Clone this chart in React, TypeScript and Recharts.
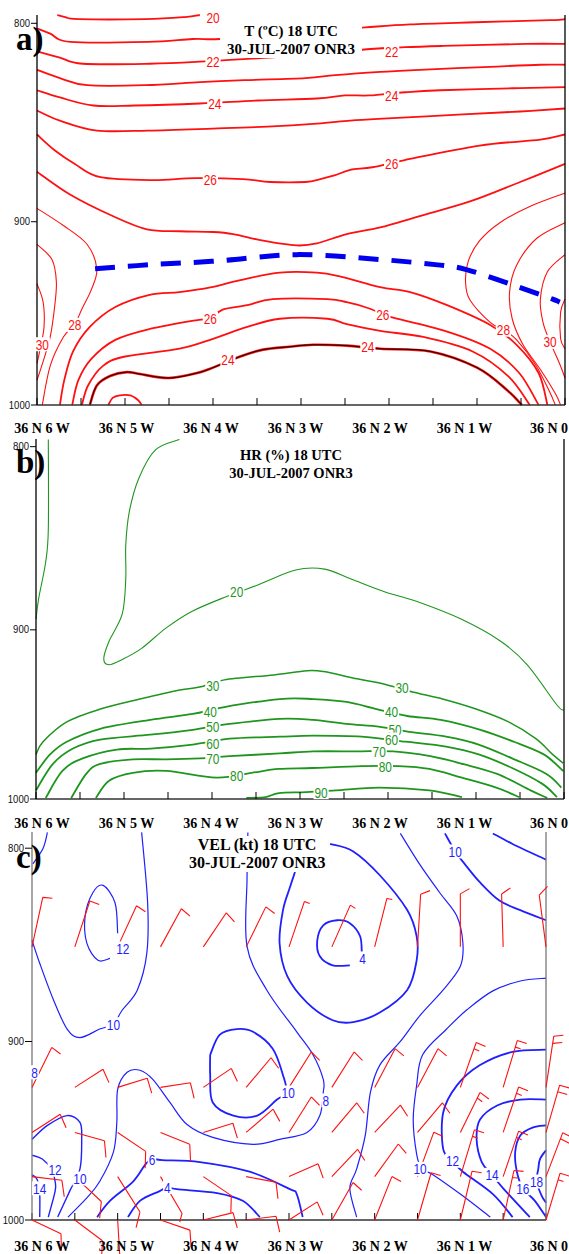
import React from 'react';
import { ComposedChart, Line, Scatter, XAxis, YAxis } from 'recharts';

// [longitude (deg, W negative), pressure (hPa)]
type P = [number, number];
type Lab = [number, number, string];

const LON_TICKS = [-6, -5.5, -5, -4.5, -4, -3.5, -3, -2.5, -2, -1.5, -1, -0.5, 0];
const LON_LABELS = ['36 N 6 W', '36 N 5 W', '36 N 4 W', '36 N 3 W', '36 N 2 W', '36 N 1 W', '36 N 0'];
const P_TICKS = [800, 900, 1000];

// ---- a) temperature (ºC) ----
const T20: P[] = [[-5.77, 796], [-5.68, 797], [-5.53, 798], [-4.77, 798], [-4.32, 797], [-4.15, 796]];
const T21: P[] = [[-6, 802.5], [-5.85, 805], [-5.62, 809], [-4.74, 809], [-4.23, 807.6], [-3.92, 807.6], [-3.13, 805], [-2.27, 802], [-1.76, 800.5], [-1.02, 799.5], [-0.17, 798.5], [0, 798]];
const T22: P[] = [[-6, 813.6], [-5.74, 816.7], [-5.48, 819.7], [-4.72, 819.7], [-4.15, 818.7], [-3.13, 816], [-2.25, 812.6], [-1.82, 811.6], [-1.39, 811], [-0.45, 810], [0, 810]];
const T23: P[] = [[-6, 822.7], [-5.74, 826.8], [-5.43, 830.3], [-4.77, 830.3], [-4.15, 828.8], [-3.64, 827.8], [-2.95, 826.8], [-2.61, 825.3], [-2.1, 823.7], [-1.65, 822.7], [-0.85, 821.2], [-0.28, 820.2], [0, 820.2]];
const T24: P[] = [[-6, 832.8], [-5.74, 836.4], [-5.36, 840.4], [-4.89, 840.4], [-4.15, 839.4], [-3.49, 837.9], [-2.82, 836.9], [-2.5, 835.4], [-2.22, 835.4], [-1.82, 833.8], [-1.42, 832.8], [-0.59, 831.8], [0, 831.3]];
const T25: P[] = [[-6, 842.9], [-5.74, 848], [-5.32, 853], [-4.74, 853], [-4, 852], [-3.38, 851], [-2.82, 849.5], [-2.44, 848], [-2.07, 847], [-1.16, 844.9], [-0.51, 843.4], [0, 841.9]];
const T26: P[] = [[-6, 855], [-5.8, 863], [-5.57, 870], [-5.28, 876.8], [-4.69, 878.3], [-4.2, 877.3], [-3.66, 877.8], [-3.35, 879.3], [-2.95, 879.3], [-2.78, 877.8], [-2.61, 875.8], [-2.44, 873], [-2.19, 871.7], [-1.82, 868], [-0.97, 860.6], [-0.28, 857.6], [0, 855]];
const T27: P[] = [[-6, 874], [-5.62, 885.9], [-5.14, 897], [-4.75, 904], [-4.38, 905], [-4, 905.4], [-3.77, 906.5], [-3.43, 910], [-3.05, 912.5], [-2.82, 911.4], [-2.48, 906.5], [-2.1, 903], [-1.65, 897], [-1.08, 889.4], [-0.51, 879.3], [0, 870]];
const T28W: P[] = [[-6, 893], [-5.7, 902], [-5.43, 912], [-5.32, 925], [-5.38, 935.9], [-5.49, 946.7], [-5.57, 955], [-5.7, 962], [-5.85, 978], [-5.94, 1000]];
const T29W: P[] = [[-6, 912], [-5.83, 920], [-5.78, 932], [-5.8, 945.6], [-5.85, 962], [-5.93, 975.5], [-6, 986]];
const T30W: P[] = [[-6, 933], [-5.93, 943], [-5.92, 956.5], [-5.97, 970], [-6, 976.6]];
const T28E: P[] = [[0, 885], [-0.4, 892], [-0.74, 900.5], [-0.97, 910], [-1.1, 921], [-1.13, 932], [-1.08, 941.8], [-0.85, 954], [-0.7, 958], [-0.55, 963.6], [-0.34, 977], [-0.18, 992], [-0.11, 1000]];
const T29E: P[] = [[0, 900.5], [-0.32, 908.7], [-0.55, 923], [-0.63, 937.5], [-0.6, 952], [-0.48, 966], [-0.28, 980], [-0.11, 993.5], [-0.05, 1000]];
const T30E: P[] = [[0, 917.4], [-0.2, 926.6], [-0.28, 941.3], [-0.25, 954], [-0.17, 964.7], [-0.06, 977], [0, 984.8]];
const T31E: P[] = [[0, 941.3], [-0.05, 948.4], [-0.05, 963], [0, 968.5]];
const T27L: P[] = [[-5.74, 1000], [-5.69, 986], [-5.59, 970], [-5.4, 956.5], [-5.11, 945.6], [-4.72, 939], [-4.38, 937.5], [-4.03, 935], [-3.69, 931], [-3.24, 927], [-2.82, 927], [-2.56, 929], [-2.1, 934.8], [-1.76, 937.5], [-1.34, 944.6], [-0.85, 955.4], [-0.55, 966.3], [-0.3, 982], [-0.2, 1000]];
const T26L: P[] = [[-5.6, 1000], [-5.53, 986], [-5.38, 974], [-5.11, 963.6], [-4.72, 957.6], [-4.18, 952.7], [-4.03, 952], [-3.89, 947], [-3.61, 944.6], [-3.32, 941.3], [-2.7, 941.3], [-2.48, 943], [-2.25, 946], [-2.07, 949.5], [-1.99, 951], [-1.34, 959], [-0.85, 968.5], [-0.52, 982], [-0.3, 1000]];
const T25L: P[] = [[-5.49, 1000], [-5.42, 989], [-5.25, 978], [-5, 972.8], [-4.38, 968.5], [-4, 963], [-3.61, 956.5], [-3.24, 952], [-2.7, 952], [-2.48, 955], [-2.1, 958.7], [-1.61, 962], [-1.05, 970], [-0.64, 984], [-0.4, 1000]];
const T24L: P[] = [[-5.4, 1000], [-5.32, 989], [-5.17, 983.7], [-4.98, 981.5], [-4.83, 982.6], [-4.5, 984.8], [-4.18, 982], [-4, 979], [-3.69, 972.8], [-3.43, 969], [-3.13, 967.4], [-2.86, 966.3], [-2.48, 966.8], [-2.1, 968.5], [-1.53, 970], [-1, 979], [-0.66, 991.5], [-0.49, 1000]];
const T23L: P[] = [[-5.19, 1000], [-5.14, 996], [-5.06, 994.6], [-4.94, 994.6], [-4.85, 997.3], [-4.81, 1000]];
const INVERSION: P[] = [[-5.34, 925], [-4.72, 922.8], [-3.92, 920.7], [-3.05, 917.4], [-2.1, 920], [-1.42, 923], [-1.11, 925.5], [-0.59, 933.7], [-0.14, 941.3], [-0.06, 943]];
const T_LABELS: Lab[] = [
  [-4, 797, '20'], [-4, 818.7, '22'], [-1.97, 813.6, '22'], [-3.98, 839.4, '24'], [-1.97, 835.4, '24'],
  [-4.03, 877.8, '26'], [-1.97, 870, '26'], [-5.57, 955.4, '28'], [-5.94, 966, '30'], [-0.7, 958, '28'],
  [-0.17, 964.7, '30'], [-4.03, 952, '26'], [-2.07, 949.5, '26'], [-3.83, 974.5, '24'], [-2.24, 967.4, '24'],
];

// ---- b) relative humidity (%) ----
const H20W: P[] = [[-5.86, 796.2], [-5.86, 843.9], [-5.89, 862], [-5.97, 882.4], [-6, 894]];
const H20: P[] = [[-4.37, 796.2], [-4.64, 801.6], [-4.83, 816.5], [-4.94, 834.6], [-4.98, 852.7], [-4.98, 871.4], [-5.02, 891], [-5.17, 906.5], [-5.23, 916.5], [-5.17, 920], [-5.02, 917], [-4.8, 910.6], [-4.52, 898.9], [-4.23, 889.6], [-3.84, 881.3], [-3.48, 874.7], [-3.05, 866.4], [-2.72, 865.9], [-2.42, 871.4], [-2.04, 878.5], [-1.67, 884], [-1.17, 893.9], [-0.72, 906.5], [-0.42, 920], [-0.08, 943.5], [0, 946.5]];
const H30: P[] = [[-6, 972.9], [-5.92, 965.3], [-5.65, 953.5], [-5.27, 945.9], [-4.82, 940], [-4.37, 934.7], [-4.14, 933], [-3.86, 928.8], [-3.3, 925.9], [-2.92, 923.5], [-2.73, 924], [-2.35, 928.2], [-2.05, 931.2], [-1.72, 935.9], [-1.38, 940], [-1, 945.9], [-0.63, 953.5], [-0.32, 963.5], [-0.13, 972.9], [-0.01, 978.2]];
const H40: P[] = [[-6, 984], [-5.84, 972.9], [-5.65, 965.3], [-5.27, 957.6], [-4.7, 952.3], [-4.22, 948.8], [-3.86, 944.7], [-3.23, 940], [-2.85, 940], [-2.47, 941.7], [-2.13, 945.9], [-1.78, 950], [-1.4, 952.3], [-0.95, 958.2], [-0.57, 965.3], [-0.23, 972.9], [-0.01, 982.9]];
const H50: P[] = [[-6, 994.7], [-5.81, 978.8], [-5.58, 969.4], [-5.27, 964], [-4.7, 961.1], [-4.22, 958.2], [-3.8, 954.7], [-3.23, 951.7], [-2.85, 952.3], [-2.47, 954.7], [-2.09, 956.4], [-1.76, 959.4], [-1.34, 962.3], [-0.97, 967], [-0.59, 975.3], [-0.2, 984.7], [-0.03, 993]];
const H60: P[] = [[-5.89, 999.4], [-5.7, 982.9], [-5.47, 975.3], [-5.08, 970], [-4.7, 969.4], [-4.22, 967], [-3.8, 963.5], [-3.23, 962.3], [-2.85, 961.7], [-2.3, 962.3], [-1.8, 965.3], [-1.34, 968.2], [-0.97, 972.9], [-0.59, 981.1], [-0.25, 990.6], [-0.08, 998.8]];
const H70: P[] = [[-5.6, 999.4], [-5.43, 984.7], [-5.28, 978.8], [-4.9, 975.9], [-4.52, 975.9], [-4.14, 975.3], [-3.8, 974], [-3.23, 972.3], [-2.85, 971.1], [-2.36, 971.1], [-1.94, 971.1], [-1.52, 974], [-1.14, 978.8], [-0.76, 984.7], [-0.38, 994.7], [-0.19, 999.4]];
const H80: P[] = [[-5.32, 999.4], [-5.17, 988.8], [-4.9, 984], [-4.52, 982.9], [-3.95, 987], [-3.55, 984], [-3.24, 981.7], [-2.86, 981.1], [-2.3, 980], [-1.88, 980], [-1.53, 981.7], [-1.16, 987], [-0.77, 993], [-0.51, 998.8]];
const H90: P[] = [[-3.61, 999.4], [-3.39, 998.8], [-3.24, 996.4], [-2.93, 995.8], [-2.59, 994.7], [-2.1, 993], [-1.53, 994.7], [-1.16, 998.8]];
const H_LABELS: Lab[] = [
  [-3.72, 878.5, '20'], [-3.99, 931.8, '30'], [-1.84, 933, '30'], [-4.02, 947.6, '40'], [-1.96, 947.6, '40'],
  [-3.99, 956.4, '50'], [-1.92, 958.2, '50'], [-3.99, 966.4, '60'], [-1.96, 964, '60'], [-3.99, 975.3, '70'],
  [-2.1, 971.1, '70'], [-3.72, 985.8, '80'], [-2.03, 980, '80'], [-2.76, 995.8, '90'],
];

// ---- c) wind speed (kt) ----
const V8NW: P[] = [[-5.82, 792.2], [-5.87, 800], [-5.99, 807.8]];
const V10W: P[] = [[-6, 846.6], [-5.91, 858.5], [-5.75, 877.7], [-5.59, 893.3], [-5.44, 897.9], [-5.21, 893.3], [-5.05, 890.7], [-4.95, 883.4], [-4.77, 872.5], [-4.66, 853.4], [-4.65, 827.5], [-4.72, 792.2]];
const V12W: P[] = [[-5.09, 856], [-5.23, 857], [-5.36, 848.1], [-5.38, 834.2], [-5.29, 822.3], [-5.17, 818.6], [-5.03, 827.5], [-5, 843]];
const V8C: P[] = [[-5.58, 998.3], [-5.36, 987.2], [-5.21, 977.8], [-5.05, 961.1], [-5.01, 944.4], [-5, 926.1], [-4.89, 916.7], [-4.74, 915.6], [-4.59, 920.6], [-4.39, 933.3], [-4.19, 945.6], [-3.89, 952.8], [-3.42, 956.7], [-3.11, 953.9], [-2.79, 950], [-2.64, 940.6], [-2.6, 927.8], [-2.6, 920.6], [-2.72, 907.2], [-2.91, 894.8], [-3.26, 872.5], [-3.49, 849.7], [-3.49, 815.5], [-3.48, 792.2]];
const V10C: P[] = [[-3.92, 907.2], [-3.81, 896.4], [-3.61, 893.3], [-3.42, 894.8], [-3.19, 903.9], [-3.07, 918.3], [-3.03, 927.8], [-3.14, 931.7], [-3.37, 940.6], [-3.65, 940.6], [-3.89, 933.3], [-3.92, 918.3], [-3.92, 907.2]];
const V4: P[] = [[-2.15, 853.4], [-2.17, 844.5], [-2.29, 837.8], [-2.44, 836.3], [-2.6, 838.9], [-2.67, 846.6], [-2.64, 854.9], [-2.49, 859.6], [-2.29, 859.6]];
const V6N: P[] = [[-2.93, 811.9], [-2.99, 819.7], [-3.07, 831.1], [-3.11, 848.1], [-3.02, 865.3], [-2.79, 879.2], [-2.49, 888.6], [-2.25, 889.6], [-1.94, 884.5], [-1.62, 872.5], [-1.51, 857], [-1.51, 844.5], [-1.62, 831.1], [-1.94, 813.5], [-2.25, 801.6], [-2.52, 797.9]];
const V10N: P[] = [[-1.7, 792.7], [-1.47, 808.3], [-1.24, 822.3], [-1.04, 834.2], [-0.97, 848.1], [-1, 860.1], [-1.2, 872.5], [-1.47, 886], [-1.7, 900], [-1.94, 912.8], [-2.05, 927.8], [-2.11, 951.7], [-2.21, 970.6], [-2.29, 981.7], [-2.21, 998.3]];
const V10E: P[] = [[0, 866.3], [-0.3, 867.8], [-0.62, 873], [-0.92, 882.9], [-1.16, 893.3], [-1.44, 907.2], [-1.51, 923.9], [-1.55, 942.8], [-1.51, 962.2], [-1.45, 970.6], [-1.32, 973.9], [-1, 985], [-0.65, 998.3]];
const V10NE: P[] = [[-1.18, 792.7], [-1.06, 801.6], [-0.95, 807.8], [-0.77, 817.1], [-0.54, 826.4], [-0.3, 831.1], [0, 836.3]];
const V12NE: P[] = [[-0.62, 792.7], [-0.39, 797.9], [0, 805.7]];
const V12E: P[] = [[0, 904.4], [-0.39, 905.6], [-0.77, 912.8], [-1.04, 923.9], [-1.2, 938.9], [-1.2, 959.4], [-1.09, 966], [-0.97, 972.2], [-0.62, 985], [-0.39, 998.3]];
const V14E: P[] = [[0, 931.7], [-0.3, 931.7], [-0.57, 935], [-0.77, 942.8], [-0.81, 953.9], [-0.75, 966.7], [-0.63, 974], [-0.5, 981.7], [-0.19, 998.3]];
const V16E: P[] = [[0, 946.1], [-0.15, 947.2], [-0.3, 951.7], [-0.36, 961.1], [-0.34, 972.2], [-0.27, 981.7], [-0.13, 988.9], [0, 998.3]];
const V18E: P[] = [[0, 960], [-0.07, 965], [-0.09, 970.6], [-0.11, 977.8], [-0.05, 986], [0, 990]];
const V10SW: P[] = [[-6, 953.9], [-5.82, 946.1], [-5.59, 940.6], [-5.44, 944.4], [-5.42, 953.9], [-5.44, 970.6], [-5.56, 983.3], [-5.7, 998.3]];
const V12SW: P[] = [[-6, 962.8], [-5.88, 965], [-5.77, 971], [-5.73, 977.8], [-5.73, 983.3], [-5.81, 998.3]];
const V14SW: P[] = [[-6, 973.9], [-5.94, 976.7], [-5.91, 985], [-5.91, 998.3]];
const V6S: P[] = [[-5.24, 998.3], [-5.09, 988.9], [-4.82, 977.8], [-4.68, 968.3], [-4.6, 965], [-4.48, 965.6], [-4.04, 966.7], [-3.46, 972.2], [-2.99, 982.2], [-2.91, 985], [-2.84, 998.3]];
const V4S: P[] = [[-4.88, 998.3], [-4.74, 988.9], [-4.51, 983.3], [-4.42, 981], [-4.31, 982.2], [-3.84, 984.4], [-3.54, 988.9], [-3.34, 998.3]];
const V_LABELS: Lab[] = [
  [-5.05, 890.7, '10'], [-4.94, 850.8, '12'], [-2.57, 932.2, '8'], [-3.01, 927.8, '10'], [-2.14, 856, '4'],
  [-1.47, 970.6, '10'], [-1.06, 801.6, '10'], [-1.09, 966, '12'], [-0.63, 974, '14'], [-0.27, 981.7, '16'],
  [-0.11, 977.8, '18'], [-5.44, 976.1, '10'], [-5.73, 971.1, '12'], [-5.91, 981.7, '14'], [-4.6, 965, '6'],
  [-4.42, 981, '4'], [-5.97, 916.7, '8'],
];

// wind barbs: direction (deg, where the staff points) and speed (kt)
const BARB_LONS = [-6, -5.5, -5, -4.5, -4, -3.5, -3, -2.5, -2, -1.5, -1, -0.5, 0];
const BARB_LEVELS = [850, 925, 950, 975, 1000];
const DIR_850 = [21, 30, 39, 44, 50, 41, 31, 38, 24, 6, 0, 357, 347];
const DIR_925 = [41, 70, 80, 85, 69, 56, 48, 48, 43, 43, 32, 28, 15];
const DIR_950 = [70, 99, 111, 103, 80, 64, 48, 56, 59, 56, 41, 31, 27];
const DIR_975 = [94, 118, 132, 134, 111, 96, 76, 59, 52, 33, 28, 31, 34];
const DIR_1000 = [105, 113, 174, 101, 82, 86, 70, 45, 35, 27, 23, 21, 28];
const SPD_850 = [10, 10, 10, 10, 10, 10, 5, 5, 5, 10, 10, 10, 10];
const SPD_925 = [10, 10, 10, 10, 10, 10, 10, 10, 10, 10, 15, 15, 20];
const SPD_950 = [10, 10, 10, 10, 10, 10, 10, 10, 10, 10, 15, 15, 20];
const SPD_975 = [10, 10, 10, 5, 10, 10, 10, 10, 10, 10, 15, 15, 20];
const SPD_1000 = [10, 10, 10, 10, 10, 10, 10, 10, 10, 10, 10, 15, 15];

const RED = '#ff1010';
const GREEN = '#1e961e';
const BLUE = '#1f1fff';
const SERIF = "'Liberation Serif', 'Times New Roman', serif";
const SANS = "'Liberation Sans', Arial, sans-serif";

const kap = (p: number) => Math.pow(p, 0.286);
const toPts = (pts: P[]) => pts.map(([lon, p]) => ({ lon, k: kap(p) }));
const toLabs = (labs: Lab[]) => labs.map(([lon, p, t]) => ({ lon, k: kap(p), t }));

// Catmull-Rom curve through the points, works for contours that fold back
function catmull(context: any) {
  let pts: number[][] = [];
  return {
    areaStart() {},
    areaEnd() {},
    lineStart() { pts = []; },
    point(x: number, y: number) { pts.push([x, y]); },
    lineEnd() {
      if (!pts.length) return;
      context.moveTo(pts[0][0], pts[0][1]);
      for (let i = 0; i < pts.length - 1; i++) {
        const p0 = pts[i - 1] || pts[i];
        const p1 = pts[i];
        const p2 = pts[i + 1];
        const p3 = pts[i + 2] || p2;
        context.bezierCurveTo(
          p1[0] + (p2[0] - p0[0]) / 6, p1[1] + (p2[1] - p0[1]) / 6,
          p2[0] - (p3[0] - p1[0]) / 6, p2[1] - (p3[1] - p1[1]) / 6,
          p2[0], p2[1]);
      }
    },
  };
}

const XTick = (props: any) => {
  const v = props.payload?.value;
  if (!Number.isInteger(v)) return null;
  return (
    <text x={42 + (v + 6) * 84.5} y={props.y} textAnchor="middle" fontFamily={SERIF} fontWeight="bold" fontSize={14} fill="#000">
      {LON_LABELS[v + 6]}
    </text>
  );
};

const YTick = (props: any) => {
  const s = String(Math.round(Math.pow(props.payload.value, 1 / 0.286)));
  return (
    <text x={props.x} y={props.y + 3.5} textAnchor="end" fontSize={10} fontFamily={SANS} fill="#111"
      textLength={s.length * 5.3} lengthAdjust="spacingAndGlyphs">{s}</text>
  );
};

const labelShape = (color: string) => (props: any) => {
  const { cx, cy, payload } = props;
  const w = payload.t.length * 6.6;
  return (
    <g>
      <rect x={cx - w / 2 - 1} y={cy - 7} width={w + 2} height={14} fill="#fff" />
      <text x={cx} y={cy + 5.5} textAnchor="middle" fontSize={15} fontFamily={SANS} fill={color}
        textLength={w} lengthAdjust="spacingAndGlyphs">{payload.t}</text>
    </g>
  );
};

const BarbShape = (props: any) => {
  const { cx, cy, payload } = props;
  const d = (payload.dir * Math.PI) / 180;
  const f = d + (72 * Math.PI) / 180;
  const sx = (u: number) => cx + u * 30;
  const sy = (v: number) => cy - v * 53;
  const ux = Math.sin(d);
  const uy = Math.cos(d);
  let path = `M${cx},${cy}L${sx(ux)},${sy(uy)}`;
  let kt = payload.kt;
  let i = 0;
  while (kt >= 10) {
    const bx = ux * (1 - i * 0.14);
    const by = uy * (1 - i * 0.14);
    path += `M${sx(bx)},${sy(by)}L${sx(bx + 0.32 * Math.sin(f))},${sy(by + 0.32 * Math.cos(f))}`;
    kt -= 10;
    i++;
  }
  if (kt >= 5) {
    const bx = ux * (1 - i * 0.14);
    const by = uy * (1 - i * 0.14);
    path += `M${sx(bx)},${sy(by)}L${sx(bx + 0.18 * Math.sin(f))},${sy(by + 0.18 * Math.cos(f))}`;
  }
  return <path d={path} stroke={RED} strokeWidth={1.1} fill="none" />;
};

type LineSpec = { pts: P[]; color: string; width: number; dash?: string };

function Panel(props: {
  top: number; height: number; mt: number; mb: number; leftW: number; rightW: number; pTop: number;
  lines: LineSpec[]; labels: Lab[]; labelColor: string; barbs?: any[]; tickMargin: number;
  axisColor: string; yTick: number;
}) {
  const yDomain = [kap(props.pTop), kap(1000)];
  const kTicks = P_TICKS.map(kap);
  return (
    <div style={{ position: 'absolute', left: 0, top: props.top }}>
      <ComposedChart width={569} height={props.height} margin={{ top: props.mt, right: 0, bottom: props.mb, left: 0 }}>
        <XAxis type="number" dataKey="lon" domain={[-6, 0]} ticks={LON_TICKS} interval={0} height={30}
          tickSize={-7} tickMargin={props.tickMargin} tick={<XTick />}
          tickLine={{ stroke: '#000' }} axisLine={{ stroke: '#333', strokeWidth: 1.5 }} />
        <YAxis yAxisId="l" type="number" dataKey="k" domain={yDomain} reversed ticks={kTicks} interval={0}
          width={props.leftW} tickSize={props.yTick} tickMargin={1} tick={<YTick />}
          axisLine={{ stroke: props.axisColor, strokeWidth: 1.3 }} tickLine={{ stroke: '#000' }} />
        <YAxis yAxisId="r" orientation="right" type="number" dataKey="k" domain={yDomain} reversed ticks={kTicks}
          interval={0} width={props.rightW} tickSize={4} tick={false}
          axisLine={{ stroke: props.axisColor, strokeWidth: 1.3 }} tickLine={{ stroke: '#000' }} />
        {props.lines.map((l, i) => (
          <Line key={i} yAxisId="l" data={toPts(l.pts)} dataKey="k" type={catmull as any} stroke={l.color}
            strokeWidth={l.width} strokeDasharray={l.dash} dot={false} activeDot={false} isAnimationActive={false} />
        ))}
        {props.barbs && (
          <Scatter yAxisId="l" data={props.barbs} shape={(p: any) => <BarbShape {...p} />} isAnimationActive={false} />
        )}
        <Scatter yAxisId="l" data={toLabs(props.labels)} shape={labelShape(props.labelColor)} isAnimationActive={false} />
      </ComposedChart>
    </div>
  );
}

const titleStyle = (left: number, top: number, width: number, size: number): React.CSSProperties => ({
  position: 'absolute', left, top, width, textAlign: 'center', fontFamily: SERIF, fontWeight: 'bold',
  fontSize: size, lineHeight: '18px', background: '#fff', color: '#000', whiteSpace: 'nowrap',
});
const letterStyle = (left: number, top: number): React.CSSProperties => ({
  position: 'absolute', left, top, fontFamily: SERIF, fontWeight: 'bold', fontSize: 33, lineHeight: '8px', color: '#000',
});

export default function App() {
  const tempLines: LineSpec[] = [
    ...[T20, T21, T22, T23, T24, T25, T26, T27].map((pts) => ({ pts, color: RED, width: 1.8 })),
    ...[T28W, T29W, T30W, T28E, T29E, T30E, T31E].map((pts) => ({ pts, color: RED, width: 1.1 })),
    ...[T27L, T26L, T25L, T23L].map((pts) => ({ pts, color: RED, width: 1.8 })),
    { pts: T24L, color: RED, width: 2.6 },
    { pts: T24L, color: '#000', width: 1 },
    { pts: INVERSION, color: '#0000ee', width: 5, dash: '20 13' },
  ];
  const humLines: LineSpec[] = [
    { pts: H20W, color: GREEN, width: 1.1 },
    { pts: H20, color: GREEN, width: 1.1 },
    { pts: H30, color: GREEN, width: 1.5 },
    ...[H40, H50, H60, H70, H80, H90].map((pts) => ({ pts, color: GREEN, width: 1.8 })),
  ];
  const velLines: LineSpec[] = [
    ...[V8NW, V10W, V12W, V8C, V10N, V10E].map((pts) => ({ pts, color: BLUE, width: 1.2 })),
    ...[V10C, V4, V6N, V10NE, V12NE, V12E, V14E, V16E, V18E, V6S, V4S].map((pts) => ({ pts, color: BLUE, width: 1.8 })),
    ...[V10SW, V12SW, V14SW].map((pts) => ({ pts, color: BLUE, width: 1.4 })),
  ];
  const dirs = [DIR_850, DIR_925, DIR_950, DIR_975, DIR_1000];
  const spds = [SPD_850, SPD_925, SPD_950, SPD_975, SPD_1000];
  const barbs = BARB_LEVELS.flatMap((p, r) =>
    BARB_LONS.map((lon, c) => ({ lon, k: kap(p), dir: dirs[r][c], kt: spds[r][c] })));

  return (
    <div style={{ position: 'absolute', left: 0, top: 0, width: 569, height: 1254, background: '#fff', overflow: 'hidden' }}>
      <Panel top={0} height={440} mt={15} mb={5} leftW={37} rightW={4} pTop={796} lines={tempLines}
        labels={T_LABELS} labelColor={RED} tickMargin={35} axisColor="#000" yTick={6} />
      <Panel top={434} height={400} mt={5} mb={5} leftW={36} rightW={5} pTop={796} lines={humLines}
        labels={H_LABELS} labelColor={GREEN} tickMargin={36} axisColor="#000" yTick={6} />
      <Panel top={827} height={427} mt={5} mb={4} leftW={32} rightW={23} pTop={792} lines={velLines}
        labels={V_LABELS} labelColor={BLUE} barbs={barbs} tickMargin={38} axisColor="#777" yTick={7} />

      <div style={titleStyle(220, 22, 142, 15)}>T (ºC) 18 UTC<br />30-JUL-2007 ONR3</div>
      <div style={titleStyle(226, 446, 130, 14.5)}>HR (%) 18 UTC<br />30-JUL-2007 ONR3</div>
      <div style={titleStyle(189, 836, 136, 16)}>VEL (kt) 18 UTC<br />30-JUL-2007 ONR3</div>

      <div style={letterStyle(16, 35)}>a)</div>
      <div style={letterStyle(16, 458)}>b)</div>
      <div style={letterStyle(16, 853)}>c)</div>
    </div>
  );
}
